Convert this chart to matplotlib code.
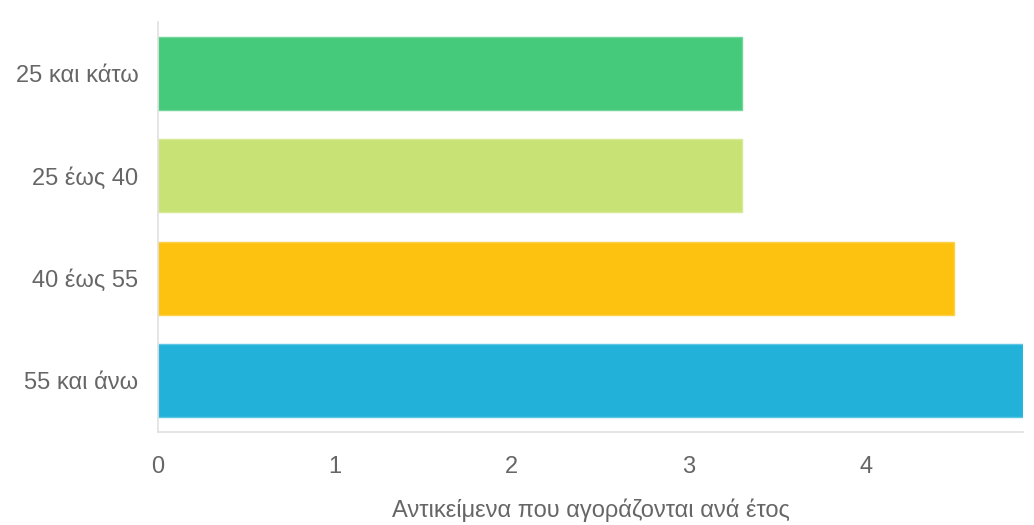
import matplotlib
matplotlib.use("Agg")
import matplotlib.pyplot as plt

categories = ["25 και κάτω", "25 έως 40", "40 έως 55", "55 και άνω"]
values = [3.3, 3.3, 4.5, 4.89]
colors = ["#45c97b", "#c9e275", "#fdc20f", "#21b1d9"]
edge_colors = ["#6fd697", "#d6ea93", "#fdd04a", "#5cc6e4"]
xticks = [0, 1, 2, 3, 4]

plt.rcParams['font.family'] = ['Liberation Sans', 'DejaVu Sans']

fig = plt.figure(figsize=(10.34, 5.25), dpi=100)
ax = fig.add_axes([0.1528, 0.177, 0.8366, 0.781])

ax.barh(range(len(categories)), values, height=0.71, color=colors,
        edgecolor=edge_colors, linewidth=1)
ax.set_ylim(3.5, -0.5)
ax.set_xlim(0, max(values))

ax.set_yticks(range(len(categories)))
ax.set_yticklabels(categories)
ax.set_xticks(xticks)
ax.tick_params(axis='both', length=0, labelsize=17, colors='#666666')
ax.tick_params(axis='y', pad=14)
ax.tick_params(axis='x', pad=17)

for side in ['top', 'right']:
    ax.spines[side].set_visible(False)
for side in ['left', 'bottom']:
    ax.spines[side].set_color('#e0e0e0')
    ax.spines[side].set_linewidth(1.2)

ax.set_xlabel("Αντικείμενα που αγοράζονται ανά έτος", fontsize=17,
              color='#666666', labelpad=15)

fig.savefig("out.png", dpi=100)
